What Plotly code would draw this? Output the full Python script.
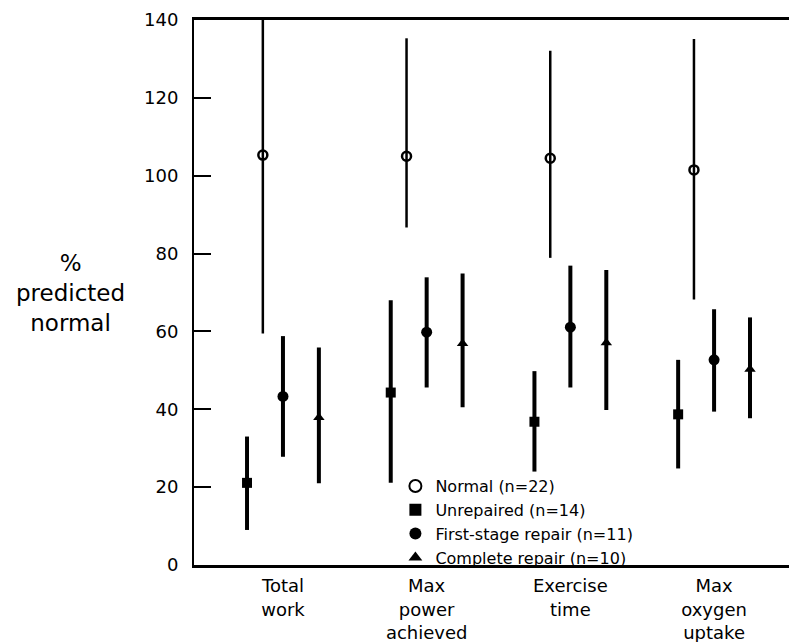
import plotly.graph_objects as go

categories = ["Total<br>work", "Max<br>power<br>achieved", "Exercise<br>time", "Max<br>oxygen<br>uptake"]
y_ticks = [0, 20, 40, 60, 80, 100, 120, 140]

normal_mean = [105.3, 105.0, 104.5, 101.5]
normal_upper = [141.0, 135.3, 132.1, 135.1]
normal_lower = [59.5, 86.7, 78.9, 68.2]

unrep_mean = [21.1, 44.3, 36.8, 38.7]
unrep_upper = [33.0, 68.0, 49.8, 52.7]
unrep_lower = [9.0, 21.1, 24.0, 24.8]

first_mean = [43.3, 59.8, 61.1, 52.7]
first_upper = [58.8, 73.9, 76.9, 65.7]
first_lower = [27.8, 45.6, 45.6, 39.4]

comp_mean = [37.9, 56.9, 57.1, 50.3]
comp_upper = [55.9, 74.9, 75.8, 63.6]
comp_lower = [21.0, 40.5, 39.8, 37.7]

series = [
    ("Normal (n=22)", normal_mean, normal_upper, normal_lower, -0.14,
     dict(symbol="circle-open", size=9, color="black", line=dict(width=2.5, color="black")), 2.5),
    ("Unrepaired (n=14)", unrep_mean, unrep_upper, unrep_lower, -0.25,
     dict(symbol="square", size=10, color="black"), 4),
    ("First-stage repair (n=11)", first_mean, first_upper, first_lower, 0.0,
     dict(symbol="circle", size=11, color="black"), 4),
    ("Complete repair (n=10)", comp_mean, comp_upper, comp_lower, 0.25,
     dict(symbol="triangle-up", size=10, color="black"), 4),
]

fig = go.Figure()
for name, mean, up, lo, off, mk, ew in series:
    xs = [i + off for i in range(len(categories))]
    fig.add_trace(go.Scatter(
        x=xs, y=mean, mode="markers", name=name, marker=mk,
        error_y=dict(type="data", symmetric=False,
                     array=[u - m for u, m in zip(up, mean)],
                     arrayminus=[m - l for m, l in zip(mean, lo)],
                     color="black", thickness=ew, width=0),
    ))

font_family = "DejaVu Sans, sans-serif"
# page has an 8px body margin: figure drawn at (8, 8)
W, H = 789, 634
ML, MT, MB = 186, 12, 77
PW, PH = W - ML, H - MT - MB

fig.update_layout(
    width=W, height=H,
    margin=dict(l=ML, r=0, t=MT, b=MB, pad=0),
    plot_bgcolor="white", paper_bgcolor="white",
    font=dict(family=font_family, size=18, color="black"),
    showlegend=True,
    legend=dict(x=0.334, y=0.176, xanchor="left", yanchor="top",
                bgcolor="rgba(0,0,0,0)", font=dict(size=16),
                itemsizing="constant", tracegroupgap=0),
    xaxis=dict(range=[-0.619, 3.577], tickmode="array",
               tickvals=list(range(len(categories))), ticktext=categories,
               showline=True, linecolor="black", linewidth=2.5, mirror=True,
               ticks="", showgrid=False, zeroline=False, tickfont=dict(size=18),
               ticklabelstandoff=3),
    yaxis=dict(range=[0, 140], tickmode="array", tickvals=y_ticks,
               showline=True, linecolor="black", linewidth=2,
               ticks="inside", ticklen=17, tickwidth=2, tickcolor="black",
               ticklabelstandoff=10,
               showgrid=False, zeroline=False, tickfont=dict(size=18)),
    annotations=[dict(text="%<br>predicted<br>normal",
                      x=(62 - ML) / PW, y=(557 - 285) / PH,
                      xref="paper", yref="paper", xanchor="center", yanchor="middle",
                      showarrow=False, font=dict(size=23), align="center")],
)

fig.write_html("out.html")
